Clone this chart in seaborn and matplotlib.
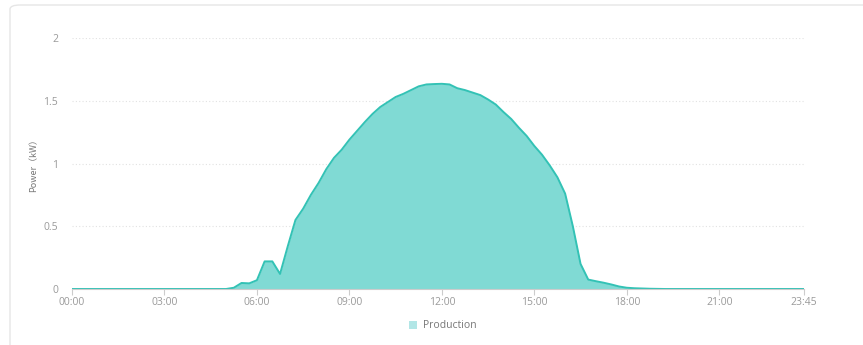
import numpy as np
import pandas as pd
import matplotlib
matplotlib.use("Agg")
import matplotlib.pyplot as plt
from matplotlib.patches import FancyBboxPatch, Patch
import seaborn as sns

# 15-minute time slots across one day
times = [f"{h:02d}:{m:02d}" for h in range(24) for m in (0, 15, 30, 45)]

# Power output (kW) for each slot
night_am = [0.0] * 21
morning = [0.01, 0.048, 0.045, 0.07, 0.22, 0.22, 0.12, 0.34, 0.55, 0.64,
           0.75, 0.845, 0.955, 1.045, 1.11, 1.19, 1.26, 1.33, 1.395, 1.45,
           1.49, 1.53, 1.555, 1.585, 1.615, 1.63, 1.633]
afternoon = [1.635, 1.63, 1.60, 1.585, 1.565, 1.545, 1.51, 1.47, 1.41, 1.355,
             1.285, 1.22, 1.14, 1.07, 0.985, 0.89, 0.76, 0.50, 0.20, 0.075,
             0.062, 0.05, 0.036, 0.02, 0.01, 0.006, 0.004, 0.002, 0.001]
night_pm = [0.0] * (96 - 21 - 27 - 29)
production = night_am + morning + afternoon + night_pm

tick_labels = ["00:00", "03:00", "06:00", "09:00", "12:00", "15:00", "18:00", "21:00", "23:45"]
y_ticks = [0, 0.5, 1, 1.5, 2]
y_tick_labels = ["0", "0.5", "1", "1.5", "2"]

df = pd.DataFrame({"slot": np.arange(len(times)), "time": times, "power": production})

sns.set_theme(style="white")
plt.rcParams["font.family"] = ["Open Sans", "Noto Sans CJK SC", "DejaVu Sans"]

line_color = "#33c2b5"
fill_color = "#80dad4"
legend_color = "#b2e6e6"
text_color = "#9a9a9a"
grid_color = "#e2e2e2"

fig = plt.figure(figsize=(8.63, 3.45), dpi=100)
fig.patch.set_facecolor("white")

# card outline
card = FancyBboxPatch((10 / 863, -0.05), 1.2, 1 - 5 / 345 + 0.05,
                      boxstyle="round,pad=0,rounding_size=0.012",
                      transform=fig.transFigure, facecolor="white",
                      edgecolor="#e6e6e6", linewidth=1.0, zorder=-5)
fig.patches.append(card)

ax = fig.add_axes([72 / 863, 1 - 289 / 345, (804 - 72) / 863, (289 - 38) / 345])
ax.set_zorder(2)
ax.set_facecolor("none")

ax.fill_between(df["slot"], df["power"], 0, color=fill_color, linewidth=0, zorder=2)
sns.lineplot(data=df, x="slot", y="power", ax=ax, color=line_color, linewidth=1.4,
             zorder=3, legend=False)

ax.set_xlim(0, len(times) - 1)
ax.set_ylim(0, 2)

tick_pos = [times.index(t) for t in tick_labels]
ax.set_xticks(tick_pos)
ax.set_xticklabels(tick_labels, fontsize=7.5, color=text_color)
ax.set_yticks(y_ticks)
ax.set_yticklabels(y_tick_labels, fontsize=7.5, color=text_color)

ax.tick_params(axis="x", length=4, width=0.8, color="#cccccc", pad=2, direction="out", bottom=True)
ax.tick_params(axis="y", length=0, pad=10)

for y in y_ticks[1:]:
    ax.axhline(y, color=grid_color, linewidth=0.8, linestyle=(0, (1, 2)), zorder=1)

for side in ("top", "right", "left"):
    ax.spines[side].set_visible(False)
ax.spines["bottom"].set_color("#cccccc")
ax.spines["bottom"].set_linewidth(0.8)
ax.spines["bottom"].set_zorder(4)

ax.set_xlabel("")
ax.set_ylabel("Power（kW）", fontsize=6.5, color="#777777", labelpad=4,
              family=["Noto Sans CJK SC", "DejaVu Sans"])

fig.legend(handles=[Patch(facecolor=legend_color, edgecolor="none", label="Production")],
           loc="center", bbox_to_anchor=(443 / 863, 1 - 326 / 345), frameon=False,
           fontsize=7.5, labelcolor="#777777", handlelength=0.8, handleheight=0.8,
           handletextpad=0.6)

fig.savefig("out.png", dpi=100, facecolor="white")
